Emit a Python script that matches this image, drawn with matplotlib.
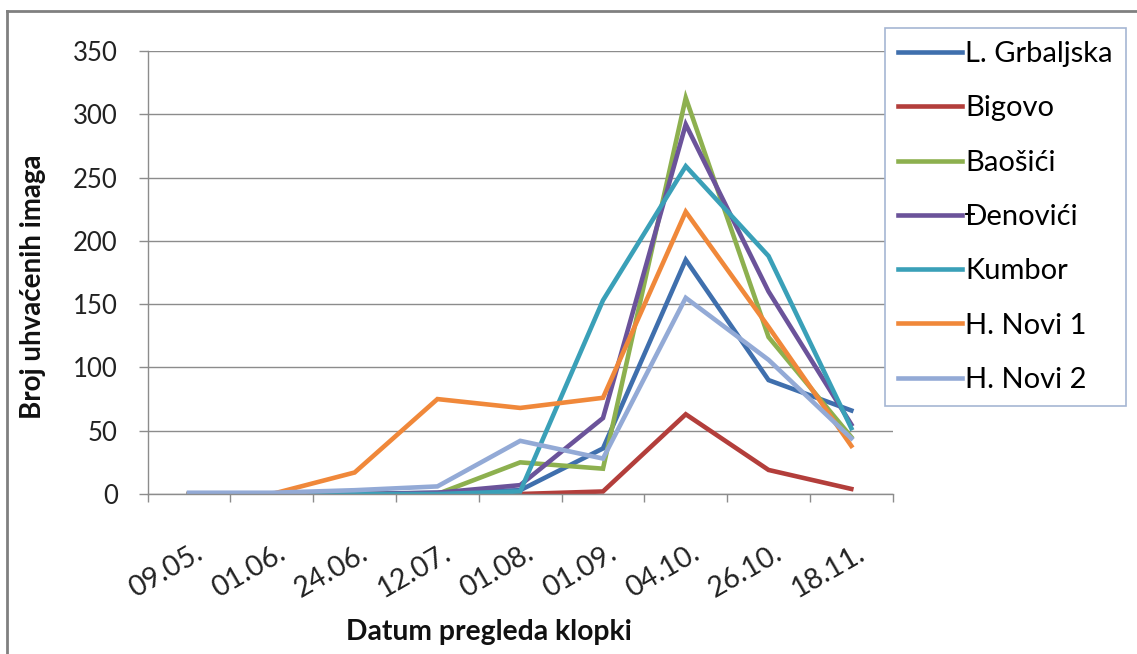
import matplotlib
matplotlib.use("Agg")
import matplotlib.pyplot as plt
import matplotlib.transforms as mtrans
from matplotlib.lines import Line2D

plt.rcParams['font.family'] = ['Lato', 'DejaVu Sans']

# data
dates = ['09.05.', '01.06.', '24.06.', '12.07.', '01.08.', '01.09.', '04.10.', '26.10.', '18.11.']
names = ['L. Grbaljska', 'Bigovo', 'Baošići', 'Đenovići', 'Kumbor', 'H. Novi 1', 'H. Novi 2']
l_grbaljska = [0, 0, 0, 1, 3, 36, 185, 90, 66]
bigovo = [0, 0, 0, 0, 0, 2, 63, 19, 4]
baosici = [0, 0, 0, 0, 25, 20, 313, 124, 45]
denovici = [0, 0, 0, 1, 7, 60, 292, 160, 55]
kumbor = [0, 0, 0, 0, 2, 153, 259, 188, 52]
h_novi_1 = [0, 0, 17, 75, 68, 76, 223, 132, 38]
h_novi_2 = [1, 1, 3, 6, 42, 28, 155, 106, 44]
series = [l_grbaljska, bigovo, baosici, denovici, kumbor, h_novi_1, h_novi_2]
colors = ['#3f6fad', '#b33e3b', '#8db04f', '#6b539a', '#3aa0b8', '#f0883a', '#93aad6']

W, H = 1137, 654
fig = plt.figure(figsize=(W / 100, H / 100), dpi=100)
ax = fig.add_axes([147.7 / W, 1 - 494 / H, (892.7 - 147.7) / W, (494 - 51) / H])

x = list(range(len(dates)))
for vals, name, col in zip(series, names, colors):
    ax.plot(x, vals, color=col, lw=3.3, label=name, solid_joinstyle='miter')

grid_col = '#8c8c8c'
ax.set_xlim(-0.5, len(dates) - 0.5)
ax.set_ylim(0, 350)
ax.set_yticks(range(0, 351, 50))
ax.yaxis.grid(True, color=grid_col, lw=1)
ax.set_axisbelow(True)
for s in ['top', 'right']:
    ax.spines[s].set_visible(False)
for s in ['left', 'bottom']:
    ax.spines[s].set_color(grid_col)
    ax.spines[s].set_linewidth(1)

ax.set_xticks(x)
ax.set_xticks([i - 0.5 for i in range(len(dates) + 1)], minor=True)
ax.set_xticklabels(dates, rotation=30, ha='right', rotation_mode='anchor', va='top')
ax.tick_params(axis='x', which='major', length=0, pad=33, labelsize=20.5, labelcolor='#222222')
ax.tick_params(axis='x', which='minor', length=6, color=grid_col, width=1)
ax.tick_params(axis='y', length=6.5, color=grid_col, width=1, pad=15, labelsize=18.5,
               labelcolor='#222222')
# nudge the date labels a little to the right, like the reference
shift = mtrans.ScaledTranslation(5 / 100, 0, fig.dpi_scale_trans)
for lab in ax.get_xticklabels():
    lab.set_transform(lab.get_transform() + shift)

fig.text(489 / W, 1 - 632 / H, 'Datum pregleda klopki', ha='center', va='center',
         fontsize=20.3, fontweight='bold', color='#111111')
fig.text(33 / W, 1 - 287 / H, 'Broj uhvaćenih imaga', ha='center', va='center',
         rotation=90, fontsize=20, fontweight='bold', color='#111111')

leg = ax.legend(loc='upper left', bbox_to_anchor=(885 / W, 1 - 28 / H),
                bbox_transform=fig.transFigure, borderaxespad=0, fontsize=21,
                handlelength=2.2, handletextpad=0.1, labelspacing=0.97,
                borderpad=0.45, fancybox=False, framealpha=1)
leg.get_frame().set_edgecolor('#a5b6d3')
leg.get_frame().set_linewidth(1.2)

# chart area border (left and top visible in reference)
fig.add_artist(Line2D([7 / W, 7 / W], [0, 1 - 11 / H], transform=fig.transFigure,
                      color='#808080', lw=2))
fig.add_artist(Line2D([7 / W, 1], [1 - 11 / H, 1 - 11 / H], transform=fig.transFigure,
                      color='#808080', lw=2))

fig.savefig('out.png', dpi=100)
